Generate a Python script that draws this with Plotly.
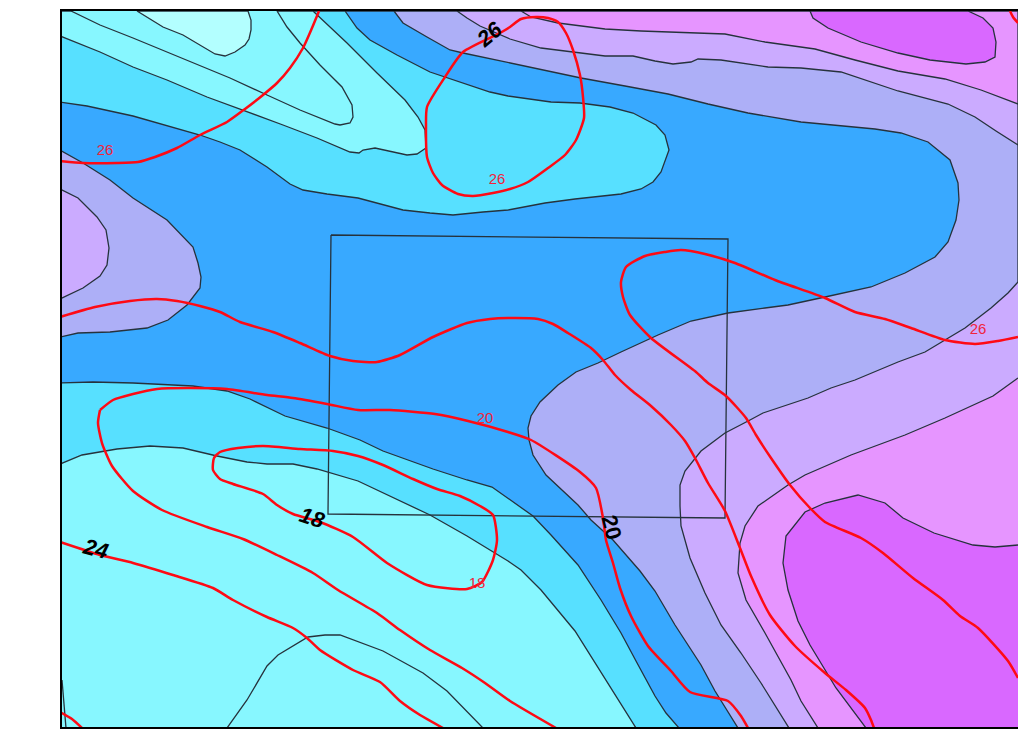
import plotly.graph_objects as go

# Colour bands, lowest to highest
BAND_COLOURS = ["#b3ffff", "#87f7ff", "#57e0ff", "#38a9ff", "#adaff7", "#cbabff", "#e695ff", "#d968ff"]
LINE_DARK = "#26323c"
RED = "#ff0a14"

# Filled regions (map x, map y)
blue_x = [60, 1018, 1018, 60]
blue_y = [11, 11, 728, 728]

wedge_x = [71, 100, 133, 167, 207, 230, 267, 300, 335, 340, 350, 353, 352, 342, 320, 300, 287, 277]
wedge_y = [11, 25, 38, 52, 69, 78, 95, 110, 124, 125, 123, 117, 105, 87, 65, 43, 27, 11]

cyan_top_x = [60, 100, 133, 167, 207, 243, 283, 317, 350, 359, 363, 375, 407, 417, 426, 425, 418, 405, 377, 347, 313, 60]
cyan_top_y = [36, 52, 67, 80, 97, 110, 125, 138, 152, 153, 150, 148, 155, 154, 148, 130, 117, 100, 73, 43, 11, 11]

mid_top_x = [60, 87, 133, 167, 200, 220, 240, 267, 290, 303, 327, 358, 380, 403, 430, 453, 483, 508, 545, 575, 621, 641, 653, 661, 669, 665, 656, 633, 610, 580, 551, 508, 490, 447, 430, 397, 370, 357, 345, 60]
mid_top_y = [102, 106, 116, 126, 135, 142, 150, 167, 184, 190, 194, 198, 204, 210, 213, 215, 212, 210, 203, 199, 194, 189, 182, 172, 150, 135, 125, 113, 107, 103, 102, 96, 92, 78, 72, 55, 40, 28, 11, 11]

peri_x = [394, 403, 427, 450, 463, 510, 541, 581, 625, 668, 708, 748, 801, 845, 875, 901, 928, 950, 958, 959, 956, 948, 935, 905, 871, 825, 788, 765, 728, 691, 658, 621, 598, 576, 558, 540, 531, 528, 529, 533, 546, 578, 591, 613, 640, 655, 675, 701, 715, 738, 1018, 1018, 394]
peri_y = [11, 23, 37, 50, 53, 63, 70, 78, 86, 94, 104, 113, 122, 126, 129, 133, 142, 160, 183, 200, 220, 242, 257, 273, 287, 297, 305, 308, 313, 321, 335, 352, 363, 372, 385, 402, 416, 428, 440, 455, 475, 505, 520, 540, 571, 591, 625, 665, 691, 728, 728, 11, 11]

lav_top_x = [457, 467, 480, 510, 541, 571, 605, 633, 655, 673, 691, 698, 721, 768, 801, 841, 871, 898, 948, 975, 996, 1018, 1018, 457]
lav_top_y = [11, 18, 26, 39, 48, 52, 56, 56, 61, 64, 62, 59, 60, 67, 68, 72, 82, 91, 104, 117, 131, 145, 11, 11]

lav_low_x = [1018, 1008, 991, 965, 925, 898, 855, 831, 808, 763, 750, 725, 701, 685, 680, 680, 681, 690, 705, 721, 741, 761, 789, 1018]
lav_low_y = [282, 293, 308, 328, 352, 362, 380, 388, 398, 413, 420, 433, 451, 471, 485, 506, 526, 558, 593, 625, 653, 683, 728, 728]

pink_top_x = [521, 531, 558, 605, 641, 725, 765, 815, 855, 898, 945, 981, 1018, 1018, 521]
pink_top_y = [11, 17, 23, 29, 31, 34, 42, 49, 60, 71, 79, 90, 104, 11, 11]

pink_low_x = [1018, 993, 945, 905, 851, 805, 788, 758, 745, 740, 738, 746, 765, 791, 801, 818, 1018]
pink_low_y = [378, 396, 418, 435, 455, 475, 485, 506, 526, 543, 573, 600, 633, 680, 701, 728, 728]

purple_top_x = [810, 813, 828, 861, 898, 930, 966, 985, 995, 996, 993, 983, 968, 810]
purple_top_y = [11, 18, 28, 42, 53, 60, 64, 62, 57, 42, 28, 18, 11, 11]

purple_low_x = [1018, 995, 973, 934, 903, 885, 858, 825, 805, 786, 783, 788, 798, 810, 836, 866, 1018]
purple_low_y = [545, 547, 545, 533, 518, 503, 495, 503, 512, 536, 563, 590, 621, 645, 688, 728, 728]

blob_x = [137, 150, 163, 183, 200, 215, 225, 235, 245, 249, 251, 251, 248, 137]
blob_y = [11, 19, 27, 35, 45, 54, 56, 52, 45, 39, 30, 20, 11, 11]

left_peri_x = [60, 83, 110, 133, 167, 193, 198, 201, 200, 187, 168, 147, 110, 78, 60]
left_peri_y = [150, 163, 180, 198, 220, 247, 263, 277, 288, 305, 320, 328, 332, 333, 337]

left_lav_x = [60, 78, 97, 106, 109, 107, 100, 83, 60]
left_lav_y = [189, 198, 217, 230, 248, 265, 276, 288, 299]

low_mid_x = [60, 93, 133, 193, 227, 250, 285, 327, 360, 383, 433, 467, 492, 508, 533, 551, 578, 601, 621, 636, 655, 666, 679, 60]
low_mid_y = [383, 382, 383, 386, 391, 399, 416, 428, 440, 451, 469, 480, 487, 498, 516, 535, 565, 600, 633, 661, 696, 713, 728, 728]

low_cyan_x = [60, 82, 117, 150, 183, 217, 247, 267, 293, 317, 358, 377, 430, 467, 508, 521, 541, 575, 598, 636, 60]
low_cyan_y = [464, 455, 449, 446, 448, 456, 462, 464, 464, 469, 481, 490, 515, 536, 561, 570, 590, 631, 668, 728, 728]

bottom_line_x = [227, 247, 267, 278, 308, 325, 340, 383, 423, 447, 483]
bottom_line_y = [728, 700, 666, 655, 637, 635, 635, 651, 673, 691, 728]

corner_line_x = [62, 66]
corner_line_y = [680, 728]

frame_box_x = [331, 728, 725, 328, 331]
frame_box_y = [235, 239, 518, 514, 235]

# Red isolines
red_a_x = [60, 83, 117, 138, 155, 177, 200, 227, 245, 263, 277, 290, 303, 312, 319]
red_a_y = [161, 163, 163, 162, 157, 148, 135, 122, 109, 95, 83, 68, 48, 28, 11]

red_b_x = [510, 500, 463, 445, 427, 426, 427, 433, 442, 458, 473, 493, 510, 528, 548, 565, 576, 584, 583, 580, 573, 566, 558, 548, 536, 521, 510]
red_b_y = [27, 33, 52, 77, 107, 127, 157, 173, 185, 194, 196, 193, 189, 182, 168, 155, 140, 118, 97, 75, 50, 33, 22, 18, 17, 19, 27]

red_c_x = [60, 95, 130, 157, 177, 200, 220, 240, 273, 300, 330, 353, 377, 400, 433, 467, 490, 508, 538, 553, 568, 591, 603, 615, 631, 651, 671, 685, 695, 708, 725, 740, 751, 770, 795, 825, 846, 865, 871, 874]
red_c_y = [317, 307, 301, 299, 301, 306, 312, 322, 332, 343, 356, 361, 362, 355, 337, 323, 319, 318, 319, 324, 333, 348, 360, 375, 390, 406, 425, 441, 458, 483, 511, 548, 576, 615, 646, 673, 690, 708, 720, 728]

red_d_x = [1018, 998, 975, 945, 911, 885, 855, 825, 775, 735, 705, 681, 665, 645, 626, 621, 623, 630, 651, 696, 708, 726, 746, 756, 771, 790, 810, 825, 861, 883, 913, 943, 960, 978, 1008, 1018]
red_d_y = [337, 341, 344, 340, 328, 319, 312, 298, 280, 263, 254, 250, 252, 256, 267, 282, 297, 315, 338, 372, 383, 396, 418, 435, 458, 485, 508, 522, 538, 553, 578, 600, 616, 628, 661, 678]

red_e_x = [100, 98, 102, 112, 133, 162, 207, 243, 277, 313, 338, 377, 400, 430, 462, 485, 510, 556]
red_e_y = [410, 423, 443, 466, 491, 510, 527, 539, 555, 573, 590, 613, 630, 650, 668, 683, 701, 728]

red_f_x = [100, 113, 133, 157, 187, 227, 267, 293, 327, 358, 390, 435, 468, 508, 531, 580, 596, 603, 606, 613, 620, 631, 648, 671, 690, 728, 741, 748]
red_f_y = [410, 400, 394, 389, 388, 389, 395, 398, 404, 410, 410, 414, 421, 432, 440, 472, 488, 518, 540, 563, 588, 616, 646, 671, 692, 701, 716, 728]

red_g_x = [220, 238, 263, 300, 333, 358, 383, 413, 437, 460, 480, 493, 497, 493, 482, 467, 427, 387, 353, 320, 293, 277, 263, 233, 220, 213, 214, 220]
red_g_y = [452, 448, 446, 449, 451, 456, 465, 479, 489, 496, 506, 515, 540, 560, 582, 589, 585, 563, 537, 522, 514, 505, 494, 484, 479, 470, 458, 452]

red_h_x = [60, 100, 133, 173, 213, 233, 267, 293, 307, 320, 353, 380, 400, 420, 443]
red_h_y = [542, 555, 563, 575, 588, 600, 617, 628, 638, 650, 670, 682, 701, 715, 728]

red_i_x = [60, 72, 82]
red_i_y = [712, 719, 728]

red_j_x = [1010, 1013, 1018]
red_j_y = [11, 17, 23]

# Isoline labels
red_label_text = ["26", "26", "26", "20", "18"]
red_label_x = [105, 497, 978, 485, 477]
red_label_y = [151, 180, 330, 419, 584]

black_label_text = ["<b><i>26</i></b>", "<b><i>24</i></b>", "<b><i>18</i></b>", "<b>20</b>"]
black_label_x = [489, 95, 312, 612]
black_label_y = [34, 548, 517, 527]
black_label_angle = [-40, 15, 18, 75]

fig = go.Figure()

def region(xs, ys, colour):
    fig.add_trace(go.Scatter(x=xs, y=ys, mode="lines", fill="toself", fillcolor=colour,
                             line=dict(color=LINE_DARK, width=1.3), hoverinfo="skip", showlegend=False))

region(blue_x, blue_y, BAND_COLOURS[3])
region(mid_top_x, mid_top_y, BAND_COLOURS[2])
region(cyan_top_x, cyan_top_y, BAND_COLOURS[1])
region(wedge_x, wedge_y, BAND_COLOURS[1])
region(blob_x, blob_y, BAND_COLOURS[0])
region(peri_x, peri_y, BAND_COLOURS[4])
region(lav_top_x, lav_top_y, BAND_COLOURS[5])
region(lav_low_x, lav_low_y, BAND_COLOURS[5])
region(pink_top_x, pink_top_y, BAND_COLOURS[6])
region(pink_low_x, pink_low_y, BAND_COLOURS[6])
region(purple_top_x, purple_top_y, BAND_COLOURS[7])
region(purple_low_x, purple_low_y, BAND_COLOURS[7])
region(left_peri_x, left_peri_y, BAND_COLOURS[4])
region(left_lav_x, left_lav_y, BAND_COLOURS[5])
region(low_mid_x, low_mid_y, BAND_COLOURS[2])
region(low_cyan_x, low_cyan_y, BAND_COLOURS[1])

for xs, ys in [(bottom_line_x, bottom_line_y), (corner_line_x, corner_line_y), (frame_box_x, frame_box_y)]:
    fig.add_trace(go.Scatter(x=xs, y=ys, mode="lines", line=dict(color=LINE_DARK, width=1.3),
                             hoverinfo="skip", showlegend=False))

for xs, ys in [(red_a_x, red_a_y), (red_b_x, red_b_y), (red_c_x, red_c_y), (red_d_x, red_d_y), (red_e_x, red_e_y),
               (red_f_x, red_f_y), (red_g_x, red_g_y), (red_h_x, red_h_y), (red_i_x, red_i_y), (red_j_x, red_j_y)]:
    fig.add_trace(go.Scatter(x=xs, y=ys, mode="lines",
                             line=dict(color=RED, width=2.5, shape="spline", smoothing=0.6),
                             hoverinfo="skip", showlegend=False))

fig.add_trace(go.Scatter(x=red_label_x, y=red_label_y, mode="text", text=red_label_text,
                         textfont=dict(family="Liberation Sans", size=15, color="#f0243c"),
                         hoverinfo="skip", showlegend=False))

for t, x, y, a in zip(black_label_text, black_label_x, black_label_y, black_label_angle):
    fig.add_annotation(x=x, y=y, text=t, textangle=a, showarrow=False,
                       font=dict(family="Liberation Sans", size=22, color="#000000"))

fig.update_xaxes(range=[62, 1018], showgrid=False, zeroline=False, showticklabels=False, ticks="",
                 showline=True, linecolor="#000000", linewidth=2, mirror=True)
fig.update_yaxes(range=[727, 11], showgrid=False, zeroline=False, showticklabels=False, ticks="",
                 showline=True, linecolor="#000000", linewidth=2)
fig.update_layout(width=1018, height=733, margin=dict(l=62, r=0, t=11, b=6),
                  paper_bgcolor="#ffffff", plot_bgcolor="#ffffff", showlegend=False)

fig.write_html("out.html", config={"displayModeBar": False},
               post_script="document.body.style.margin='0';document.documentElement.style.overflow='hidden';")
